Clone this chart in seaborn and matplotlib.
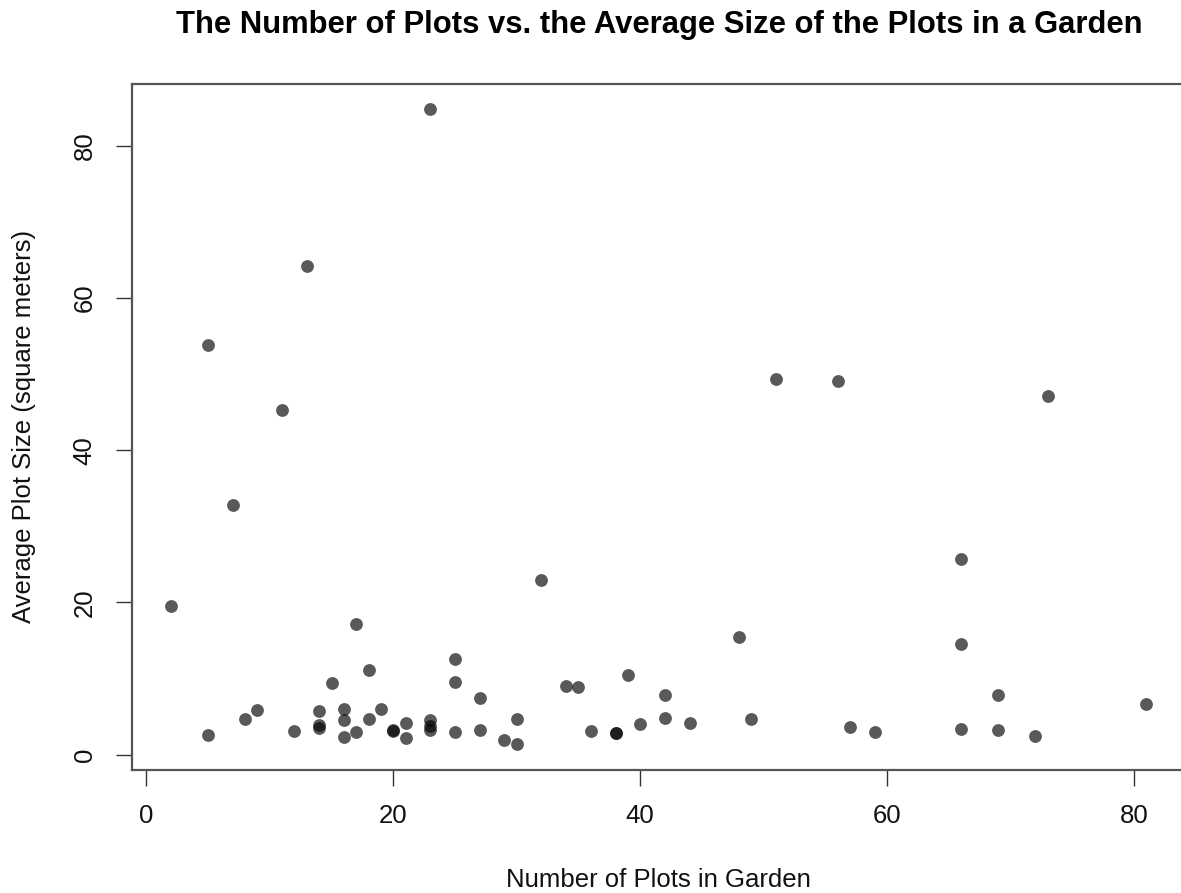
import matplotlib
matplotlib.use('Agg')

import pandas as pd
import matplotlib.pyplot as plt
import seaborn as sns

# ------------------------------------------------------------------------
# data
# ------------------------------------------------------------------------

num_plots = [2, 5, 5, 7, 8, 9, 11, 12, 13, 14, 14, 14, 15, 16, 16, 16,
             17, 17, 18, 18, 19, 20, 20, 21, 21, 23, 23, 23, 23, 25, 25, 25,
             27, 27, 29, 30, 30, 32, 34, 35, 36, 38, 38, 39, 40, 42, 42, 44,
             48, 49, 51, 56, 57, 59, 66, 66, 66, 69, 69, 72, 73, 81]
avg_size = [19.6, 53.8, 2.6, 32.8, 4.7, 5.9, 45.3, 3.1, 64.2, 5.7, 3.9, 3.5,
            9.4, 6.0, 4.6, 2.3, 17.2, 3.0, 11.1, 4.7, 6.0, 3.2, 3.1, 4.15,
            2.2, 84.8, 4.5, 3.8, 3.3, 12.6, 9.6, 3.0, 7.4, 3.3, 2.0, 4.7, 1.4,
            23.0, 9.0, 8.9, 3.1, 2.9, 2.9, 10.5, 4.0, 7.9, 4.8, 4.2, 15.4,
            4.7, 49.3, 49.1, 3.7, 3.0, 25.7, 14.6, 3.4, 7.8, 3.3, 2.4, 47.1,
            6.6]

df = pd.DataFrame({'plots': num_plots, 'size': avg_size})

# ------------------------------------------------------------------------
# plot
# ------------------------------------------------------------------------

sns.set_style('ticks')
plt.rcParams['font.family'] = ['Liberation Sans', 'DejaVu Sans']

fig = plt.figure(figsize=(11.81, 8.93), dpi=100)
ax = fig.add_axes([132 / 1181, (893 - 769.5) / 893, 1053.5 / 1181, 685.5 / 893])

sns.scatterplot(data=df, x='plots', y='size', color='black', alpha=0.65,
                s=85, linewidth=0, ax=ax)

# R style 4% padding
ax.set_xlim(-1.16, 84.16)
ax.set_ylim(-1.94, 88.1)
ax.set_xticks([0, 20, 40, 60, 80])
ax.set_yticks([0, 20, 40, 60, 80])

for sp in ax.spines.values():
    sp.set_color('#555555')
    sp.set_linewidth(1.6)

ax.tick_params(axis='both', length=11.5, width=1.0, color='#333333',
               labelsize=18.5, labelcolor='#111111')
ax.tick_params(axis='x', pad=13)
ax.tick_params(axis='y', pad=14)
for lab in ax.get_yticklabels():
    lab.set_rotation(90)
    lab.set_va('center')

ax.set_xlabel('Number of Plots in Garden', fontsize=18.5, color='#111111')
ax.set_ylabel('Average Plot Size (square meters)', fontsize=18.5, color='#111111')
ax.xaxis.label.set_va('center')
ax.xaxis.set_label_coords(0.5, (769.5 - 880) / 685.5)
ax.yaxis.label.set_va('center')
ax.yaxis.set_label_coords((24 - 132) / 1053.5, 0.5)

ax.set_title('The Number of Plots vs. the Average Size of the Plots in a Garden',
             fontsize=22.3, fontweight='bold', color='black', pad=37)

fig.savefig('out.png', dpi=100)
